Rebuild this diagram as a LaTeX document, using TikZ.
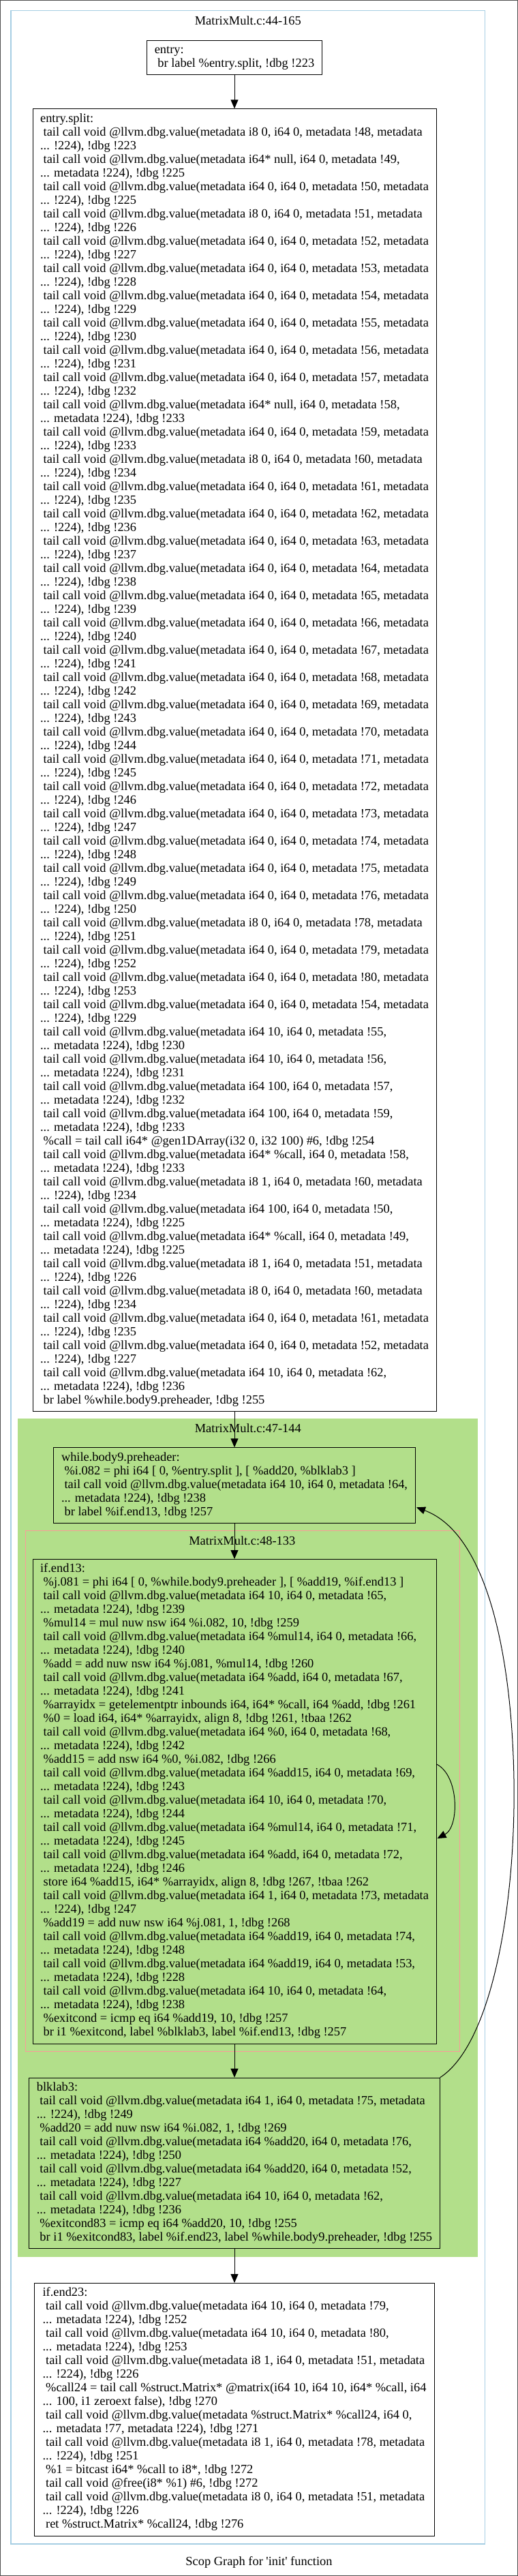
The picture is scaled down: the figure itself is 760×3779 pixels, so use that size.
\documentclass[tikz,border=0pt]{standalone}
\usepackage{fontspec}
\newfontfamily\gvfont{Liberation Serif}
\usetikzlibrary{arrows.meta,calc}
\definecolor{clblue}{HTML}{A6CEE3}
\definecolor{clgreen}{HTML}{B2DF8A}
\definecolor{clpink}{HTML}{FB9A99}
\definecolor{frmgray}{HTML}{505050}
\newcommand\ind{\hspace*{4.6pt}}
\newcommand\hs{\rule[-6pt]{0pt}{20pt}}
\newcommand\dva[3]{\ind tail call void @llvm.dbg.value(metadata #1, i64 0, metadata #2, metadata\\... !224), !dbg #3}
\newcommand\dvb[3]{\ind tail call void @llvm.dbg.value(metadata #1, i64 0, metadata #2,\\... metadata !224), !dbg #3}
\newenvironment{lines}{\begin{tabular}{@{}l@{}}}{\end{tabular}}
\tikzset{
 blockbox/.style={draw=black, line width=1pt, anchor=north, inner xsep=11pt, inner ysep=5.35pt, font=\gvfont\fontsize{18.4}{20}\selectfont},
 ttl/.style={anchor=base, font=\gvfont\fontsize{18.4}{20}\selectfont, inner sep=0pt},
 edge/.style={-{Triangle[length=13pt,width=11pt]}, line width=1pt, draw=black},
}
\begin{document}
\begin{tikzpicture}[x=1pt,y=-1pt]
\useasboundingbox (0,0) rectangle (760,3779);
\draw[frmgray, line width=1.2pt] (0.6,0.6) rectangle (759.4,3778.4);
% clusters
\draw[clblue, line width=1.2pt, fill=white] (16,15.7) rectangle (711.6,3732);
\fill[clgreen] (26.2,2080.7) rectangle (701.4,3311);
\draw[clpink, line width=1pt, fill=clgreen] (37.3,2245.7) rectangle (674.7,3009);
\node[ttl] (t1) at (363.8,36.5) {MatrixMult.c:44-165};
\node[ttl] (t2) at (363.8,2101.7) {MatrixMult.c:47-144};
\node[ttl] (t3) at (355.3,2266.7) {MatrixMult.c:48-133};
\node[ttl] (cap) at (380,3763) {Scop Graph for 'init' function};
% blocks
\node[blockbox, fill=white, minimum width=257pt] (entry) at (344,58.7) {\begin{lines}\hs entry:\\
\ind br label \%entry.split, !dbg !223\hs\end{lines}};
\node[blockbox, fill=white, minimum width=592pt] (esplit) at (344,159.3) {\begin{lines}\hs entry.split:\\
\dva{i8 0}{!48}{!223}\\
\dvb{i64* null}{!49}{!225}\\
\dva{i64 0}{!50}{!225}\\
\dva{i8 0}{!51}{!226}\\
\dva{i64 0}{!52}{!227}\\
\dva{i64 0}{!53}{!228}\\
\dva{i64 0}{!54}{!229}\\
\dva{i64 0}{!55}{!230}\\
\dva{i64 0}{!56}{!231}\\
\dva{i64 0}{!57}{!232}\\
\dvb{i64* null}{!58}{!233}\\
\dva{i64 0}{!59}{!233}\\
\dva{i8 0}{!60}{!234}\\
\dva{i64 0}{!61}{!235}\\
\dva{i64 0}{!62}{!236}\\
\dva{i64 0}{!63}{!237}\\
\dva{i64 0}{!64}{!238}\\
\dva{i64 0}{!65}{!239}\\
\dva{i64 0}{!66}{!240}\\
\dva{i64 0}{!67}{!241}\\
\dva{i64 0}{!68}{!242}\\
\dva{i64 0}{!69}{!243}\\
\dva{i64 0}{!70}{!244}\\
\dva{i64 0}{!71}{!245}\\
\dva{i64 0}{!72}{!246}\\
\dva{i64 0}{!73}{!247}\\
\dva{i64 0}{!74}{!248}\\
\dva{i64 0}{!75}{!249}\\
\dva{i64 0}{!76}{!250}\\
\dva{i8 0}{!78}{!251}\\
\dva{i64 0}{!79}{!252}\\
\dva{i64 0}{!80}{!253}\\
\dva{i64 0}{!54}{!229}\\
\dvb{i64 10}{!55}{!230}\\
\dvb{i64 10}{!56}{!231}\\
\dvb{i64 100}{!57}{!232}\\
\dvb{i64 100}{!59}{!233}\\
\ind \%call = tail call i64* @gen1DArray(i32 0, i32 100) \#6, !dbg !254\\
\dvb{i64* \%call}{!58}{!233}\\
\dva{i8 1}{!60}{!234}\\
\dvb{i64 100}{!50}{!225}\\
\dvb{i64* \%call}{!49}{!225}\\
\dva{i8 1}{!51}{!226}\\
\dva{i8 0}{!60}{!234}\\
\dva{i64 0}{!61}{!235}\\
\dva{i64 0}{!52}{!227}\\
\dvb{i64 10}{!62}{!236}\\
\ind br label \%while.body9.preheader, !dbg !255\hs\end{lines}};
\node[blockbox, fill=clgreen, minimum width=531pt] (wbp) at (344,2123.3) {\begin{lines}\hs while.body9.preheader:\\
\ind \%i.082 = phi i64 [ 0, \%entry.split ], [ \%add20, \%blklab3 ]\\
\dvb{i64 10}{!64}{!238}\\
\ind br label \%if.end13, !dbg !257\hs\end{lines}};
\node[blockbox, fill=clgreen, minimum width=592pt] (iend13) at (344,2287) {\begin{lines}\hs if.end13:\\
\ind \%j.081 = phi i64 [ 0, \%while.body9.preheader ], [ \%add19, \%if.end13 ]\\
\dvb{i64 10}{!65}{!239}\\
\ind \%mul14 = mul nuw nsw i64 \%i.082, 10, !dbg !259\\
\dvb{i64 \%mul14}{!66}{!240}\\
\ind \%add = add nuw nsw i64 \%j.081, \%mul14, !dbg !260\\
\dvb{i64 \%add}{!67}{!241}\\
\ind \%arrayidx = getelementptr inbounds i64, i64* \%call, i64 \%add, !dbg !261\\
\ind \%0 = load i64, i64* \%arrayidx, align 8, !dbg !261, !tbaa !262\\
\dvb{i64 \%0}{!68}{!242}\\
\ind \%add15 = add nsw i64 \%0, \%i.082, !dbg !266\\
\dvb{i64 \%add15}{!69}{!243}\\
\dvb{i64 10}{!70}{!244}\\
\dvb{i64 \%mul14}{!71}{!245}\\
\dvb{i64 \%add}{!72}{!246}\\
\ind store i64 \%add15, i64* \%arrayidx, align 8, !dbg !267, !tbaa !262\\
\dva{i64 1}{!73}{!247}\\
\ind \%add19 = add nuw nsw i64 \%j.081, 1, !dbg !268\\
\dvb{i64 \%add19}{!74}{!248}\\
\dvb{i64 \%add19}{!53}{!228}\\
\dvb{i64 10}{!64}{!238}\\
\ind \%exitcond = icmp eq i64 \%add19, 10, !dbg !257\\
\ind br i1 \%exitcond, label \%blklab3, label \%if.end13, !dbg !257\hs\end{lines}};
\node[blockbox, fill=clgreen, minimum width=601pt] (blklab) at (344,3047.7) {\begin{lines}\hs blklab3:\\
\dva{i64 1}{!75}{!249}\\
\ind \%add20 = add nuw nsw i64 \%i.082, 1, !dbg !269\\
\dvb{i64 \%add20}{!76}{!250}\\
\dvb{i64 \%add20}{!52}{!227}\\
\dvb{i64 10}{!62}{!236}\\
\ind \%exitcond83 = icmp eq i64 \%add20, 10, !dbg !255\\
\ind br i1 \%exitcond83, label \%if.end23, label \%while.body9.preheader, !dbg !255\hs\end{lines}};
\node[blockbox, fill=white, minimum width=587pt] (iend23) at (344,3349) {\begin{lines}\hs if.end23:\\
\dvb{i64 10}{!79}{!252}\\
\dvb{i64 10}{!80}{!253}\\
\dva{i8 1}{!51}{!226}\\
\ind \%call24 = tail call \%struct.Matrix* @matrix(i64 10, i64 10, i64* \%call, i64\\
... 100, i1 zeroext false), !dbg !270\\
\ind tail call void @llvm.dbg.value(metadata \%struct.Matrix* \%call24, i64 0,\\
... metadata !77, metadata !224), !dbg !271\\
\dva{i8 1}{!78}{!251}\\
\ind \%1 = bitcast i64* \%call to i8*, !dbg !272\\
\ind tail call void @free(i8* \%1) \#6, !dbg !272\\
\dva{i8 0}{!51}{!226}\\
\ind ret \%struct.Matrix* \%call24, !dbg !276\hs\end{lines}};
% edges
\draw[edge] (entry.south) -- (esplit.north);
\draw[edge] (esplit.south) -- (wbp.north);
\draw[edge] (wbp.south) -- (iend13.north);
\draw[edge] (iend13.south) -- (blklab.north);
\draw[edge] (blklab.south) -- (iend23.north);
\draw[edge] ($(iend13.north east)+(0,301)$) .. controls (674,2605) and (674,2680) .. ($(iend13.north east)+(1,410)$);
\draw[edge] (blklab.north east) .. controls (720,3000) and (757,2800) .. (754,2610)
  .. controls (751,2430) and (715,2250) .. ($(wbp.north east)+(1,88)$);
\end{tikzpicture}
\end{document}
